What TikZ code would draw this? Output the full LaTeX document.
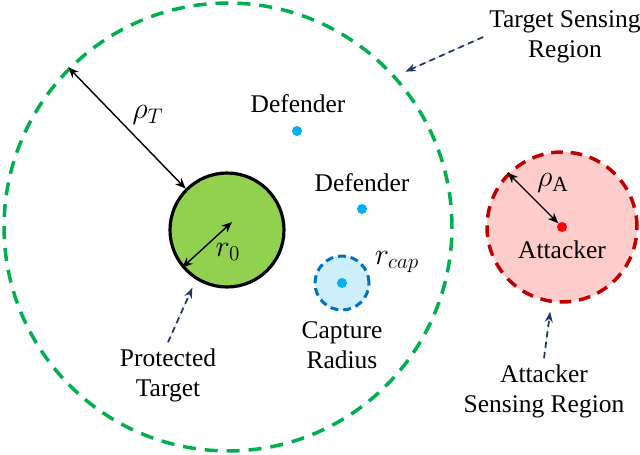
\documentclass[tikz,border=0pt]{standalone}
\usepackage{fontspec}
\setmainfont{Liberation Serif}
\usetikzlibrary{arrows.meta}

\definecolor{regiongreen}{HTML}{00B050}
\definecolor{targetgreen}{HTML}{92D050}
\definecolor{defblue}{HTML}{00B0F0}
\definecolor{capblue}{HTML}{0070C0}
\definecolor{capfill}{HTML}{CDEFFC}
\definecolor{attred}{HTML}{C00000}
\definecolor{attfill}{HTML}{FFCCCC}
\definecolor{pointer}{HTML}{1F3864}

\begin{document}
\begin{tikzpicture}[x=0.02cm,y=0.02cm,
  every node/.style={font=\fontsize{14.5}{17}\selectfont},
  mathlabel/.style={font=\fontsize{17.5}{20}\selectfont},
  region/.style={circle,inner sep=0pt,line width=2pt},
  dot/.style={circle,inner sep=0pt,minimum size=0.2cm},
  radius arrow/.style={{Stealth[length=6pt,width=5pt]}-{Stealth[length=6pt,width=5pt]},line width=0.8pt},
  pointer arrow/.style={-{Stealth[length=6pt,width=4.5pt]},draw=pointer,fill=pointer,dash pattern=on 3.5pt off 2.5pt,line width=1pt}]
  \useasboundingbox (0,0) rectangle (640,454);
  % sensing regions and target
  \node[region,draw=regiongreen,dash pattern=on 7.4pt off 5.1pt,minimum size=8.96cm] (tsr) at (228,227) {};
  \node[region,draw=black,fill=targetgreen,line width=1.8pt,minimum size=2.28cm] (target) at (227,224) {};
  \node[region,draw=capblue,fill=capfill,line width=1.7pt,dash pattern=on 4.5pt off 2.8pt,minimum size=1.08cm] (cap) at (342,171) {};
  \node[region,draw=attred,fill=attfill,dash pattern=on 6.6pt off 4.5pt,minimum size=3cm] (att) at (562,227) {};
  % agents
  \node[dot,fill=defblue] (def1) at (297,323) {};
  \node[dot,fill=defblue] (def2) at (362,245) {};
  \node[dot,fill=defblue] (capdot) at (342,171) {};
  \node[dot,fill=red] (attdot) at (562,227) {};
  \coordinate (r0tip) at (232,232);
  % radii
  \draw[radius arrow] (tsr.135) -- (target.135);
  \draw[radius arrow] (target.220) -- (r0tip);
  \draw[radius arrow] (att.135) -- (attdot);
  \node[mathlabel] (rhoT) at (148,339) {$\rho_T$};
  \node[mathlabel] (r0) at (228,202) {$r_0$};
  \node[mathlabel] (rcap) at (397,192) {$r_{cap}$};
  \node[mathlabel] (rhoA) at (553,271) {$\rho_{\mathrm{A}}$};
  % labels
  \node (def1label) at (298,350) {Defender};
  \node (def2label) at (362,271) {Defender};
  \node (attlabel) at (562,204) {Attacker};
  \node[align=center] (caplabel) at (342,109) {Capture\\Radius};
  \node[align=center] (ptlabel) at (168,79) {Protected\\Target};
  \node[align=center] (tsrlabel) at (565,417) {Target Sensing\\Region};
  \node[align=center] (asrlabel) at (544,63) {Attacker\\Sensing Region};
  % pointers
  \draw[pointer arrow,shorten >=6pt] (tsrlabel.west) -- (tsr.42);
  \draw[pointer arrow,shorten >=5pt] (ptlabel.north) -- (target.238);
  \draw[pointer arrow,shorten >=5pt] (asrlabel.north) -- (att.262);
\end{tikzpicture}
\end{document}
